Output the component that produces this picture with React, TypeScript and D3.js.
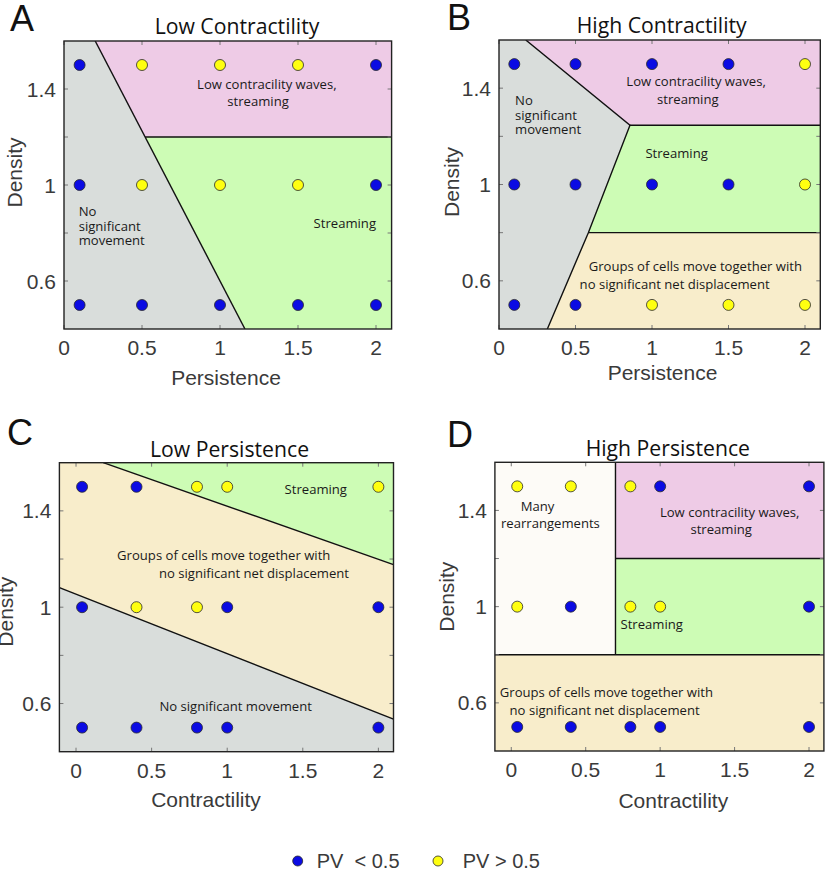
import React from "react";
import * as d3 from "d3";

// ---------- data ----------
const persistenceLevels = [0.1, 0.5, 1, 1.5, 2];
const contractilityLevels = [0.04, 0.4, 0.8, 1, 2];
const densityLevels = [1.5, 1, 0.5];
const xTicks = [0, 0.5, 1, 1.5, 2];
const yTicks = [0.6, 0.8, 1, 1.2, 1.4];
const yTickLabels = [0.6, 1, 1.4];

// 1 = PV > 0.5 (yellow), 0 = PV < 0.5 (blue); rows follow densityLevels
const pvA = [
  [0, 1, 1, 1, 0],
  [0, 1, 1, 1, 0],
  [0, 0, 0, 0, 0],
];
const pvB = [
  [0, 0, 0, 0, 1],
  [0, 0, 0, 0, 1],
  [0, 0, 1, 1, 1],
];
const pvC = [
  [0, 0, 1, 1, 1],
  [0, 1, 1, 0, 0],
  [0, 0, 0, 0, 0],
];
const pvD = [
  [1, 1, 1, 0, 0],
  [1, 0, 1, 1, 0],
  [0, 0, 0, 0, 0],
];

// phase regions (data coordinates)
const regionsA = [
  { kind: "none", pts: [[0, 1.6], [0.2, 1.6], [1.16, 0.4], [0, 0.4]] },
  { kind: "waves", pts: [[0.2, 1.6], [2.1, 1.6], [2.1, 1.2], [0.52, 1.2]] },
  { kind: "stream", pts: [[0.52, 1.2], [2.1, 1.2], [2.1, 0.4], [1.16, 0.4]] },
];
const boundariesA = [
  [[0.2, 1.6], [1.16, 0.4]],
  [[0.52, 1.2], [2.1, 1.2]],
];
const regionsB = [
  { kind: "none", pts: [[0, 1.6], [0.175, 1.6], [0.856, 1.246], [0.584, 0.8], [0.316, 0.4], [0, 0.4]] },
  { kind: "waves", pts: [[0.175, 1.6], [2.1, 1.6], [2.1, 1.246], [0.856, 1.246]] },
  { kind: "stream", pts: [[0.856, 1.246], [2.1, 1.246], [2.1, 0.8], [0.584, 0.8]] },
  { kind: "groups", pts: [[0.584, 0.8], [2.1, 0.8], [2.1, 0.4], [0.316, 0.4]] },
];
const boundariesB = [
  [[0.175, 1.6], [0.856, 1.246], [0.584, 0.8], [0.316, 0.4]],
  [[0.856, 1.246], [2.1, 1.246]],
  [[0.584, 0.8], [2.1, 0.8]],
];
const regionsC = [
  { kind: "stream", pts: [[0.18, 1.6], [2.1, 1.6], [2.1, 1.177]] },
  { kind: "groups", pts: [[-0.11, 1.6], [0.18, 1.6], [2.1, 1.177], [2.1, 0.535], [-0.11, 1.081]] },
  { kind: "none", pts: [[-0.11, 1.081], [2.1, 0.535], [2.1, 0.4], [-0.11, 0.4]] },
];
const boundariesC = [
  [[0.18, 1.6], [2.1, 1.177]],
  [[-0.11, 1.081], [2.1, 0.535]],
];
const regionsD = [
  { kind: "rearr", pts: [[-0.11, 1.6], [0.7, 1.6], [0.7, 0.8], [-0.11, 0.8]] },
  { kind: "waves", pts: [[0.7, 1.6], [2.1, 1.6], [2.1, 1.2], [0.7, 1.2]] },
  { kind: "stream", pts: [[0.7, 1.2], [2.1, 1.2], [2.1, 0.8], [0.7, 0.8]] },
  { kind: "groups", pts: [[-0.11, 0.8], [2.1, 0.8], [2.1, 0.4], [-0.11, 0.4]] },
];
const boundariesD = [
  [[0.7, 1.6], [0.7, 0.8]],
  [[0.7, 1.2], [2.1, 1.2]],
  [[-0.11, 0.8], [2.1, 0.8]],
];

// annotations: [text, x, y, anchor]
const notesA = [
  ["Low contracility waves,", 1.3, 1.399, "middle"],
  ["streaming", 1.244, 1.329, "middle"],
  ["No", 0.094, 0.871, "start"],
  ["significant", 0.094, 0.81, "start"],
  ["movement", 0.094, 0.75, "start"],
  ["Streaming", 1.8, 0.822, "middle"],
];
const notesB = [
  ["No", 0.105, 1.329, "start"],
  ["significant", 0.105, 1.267, "start"],
  ["movement", 0.105, 1.208, "start"],
  ["Low contracility waves,", 1.288, 1.408, "middle"],
  ["streaming", 1.234, 1.333, "middle"],
  ["Streaming", 1.161, 1.11, "middle"],
  ["Groups of cells move together with", 1.283, 0.639, "middle"],
  ["no significant net displacement", 1.148, 0.565, "middle"],
];
const notesC = [
  ["Streaming", 1.586, 1.468, "middle"],
  ["Groups of cells move together with", 0.977, 1.195, "middle"],
  ["no significant net displacement", 1.177, 1.123, "middle"],
  ["No significant movement", 1.056, 0.567, "middle"],
];
const notesD = [
  ["Many", 0.176, 1.397, "middle"],
  ["rearrangements", 0.263, 1.325, "middle"],
  ["Low contracility waves,", 1.467, 1.371, "middle"],
  ["streaming", 1.41, 1.3, "middle"],
  ["Streaming", 0.943, 0.908, "middle"],
  ["Groups of cells move together with", 0.639, 0.626, "middle"],
  ["no significant net displacement", 0.627, 0.551, "middle"],
];

// ---------- styles ----------
const FILL: Record<string, string> = {
  none: "#d9dddb",
  waves: "#eecbe6",
  stream: "#cdfcb5",
  groups: "#f8edcb",
  rearr: "#fdfbf7",
};
const BLUE = "#0b0be3";
const YELLOW = "#ffff10";
const TICKFONT = "'Liberation Sans', Arial, sans-serif";
const NOTEFONT = "'Open Sans', sans-serif";

const panels = [
  {
    letter: "A", lx: 10, ly: 31, title: "Low Contractility", tx: 237, ty: 34,
    left: 64, right: 391.6, top: 41, bottom: 329, xd: [0, 2.1],
    xs: persistenceLevels, pv: pvA, regions: regionsA, bounds: boundariesA, notes: notesA,
    xlab: "Persistence", xlx: 226, xly: 385, ylx: 22, yly: 172.5,
  },
  {
    letter: "B", lx: 447, ly: 30, title: "High Contractility", tx: 661.7, ty: 33,
    left: 499, right: 820.3, top: 40, bottom: 329, xd: [0, 2.1],
    xs: persistenceLevels, pv: pvB, regions: regionsB, bounds: boundariesB, notes: notesB,
    xlab: "Persistence", xlx: 662.5, xly: 380, ylx: 458.5, yly: 182,
  },
  {
    letter: "C", lx: 7, ly: 445, title: "Low Persistence", tx: 229.5, ty: 456.7,
    left: 59.4, right: 393.5, top: 462.7, bottom: 751.7, xd: [-0.11, 2.1],
    xs: contractilityLevels, pv: pvC, regions: regionsC, bounds: boundariesC, notes: notesC,
    xlab: "Contractility", xlx: 206, xly: 807, ylx: 13, yly: 611.7,
  },
  {
    letter: "D", lx: 447, ly: 447, title: "High Persistence", tx: 667.8, ty: 456,
    left: 494.9, right: 823.9, top: 462.3, bottom: 751, xd: [-0.11, 2.1],
    xs: contractilityLevels, pv: pvD, regions: regionsD, bounds: boundariesD, notes: notesD,
    xlab: "Contractility", xlx: 673.3, xly: 808, ylx: 453.5, yly: 596.7,
  },
];

function Panel({ p }: { p: any }) {
  const x = d3.scaleLinear().domain(p.xd).range([p.left, p.right]);
  const y = d3.scaleLinear().domain([0.4, 1.6]).range([p.bottom, p.top]);
  const line = d3.line<number[]>().x((d) => x(d[0])).y((d) => y(d[1]));
  const clipId = "clip" + p.letter;
  return (
    <g>
      <defs>
        <clipPath id={clipId}>
          <rect x={p.left} y={p.top} width={p.right - p.left} height={p.bottom - p.top} />
        </clipPath>
      </defs>
      <g clipPath={`url(#${clipId})`}>
        {p.regions.map((r: any, i: number) => (
          <path key={i} d={line(r.pts) + "Z"} fill={FILL[r.kind]} stroke={FILL[r.kind]} strokeWidth={0.5} />
        ))}
        {p.bounds.map((b: any, i: number) => (
          <path key={i} d={line(b) as string} fill="none" stroke="#111" strokeWidth={1.4} />
        ))}
      </g>
      {/* ticks, inward on all four sides */}
      {xTicks.map((t) => (
        <g key={"xt" + t} stroke="#777" strokeWidth={1}>
          <line x1={x(t)} x2={x(t)} y1={p.bottom} y2={p.bottom - 4} />
          <line x1={x(t)} x2={x(t)} y1={p.top} y2={p.top + 4} />
        </g>
      ))}
      {yTicks.map((t) => (
        <g key={"yt" + t} stroke="#777" strokeWidth={1}>
          <line x1={p.left} x2={p.left + 4} y1={y(t)} y2={y(t)} />
          <line x1={p.right} x2={p.right - 4} y1={y(t)} y2={y(t)} />
        </g>
      ))}
      <rect x={p.left} y={p.top} width={p.right - p.left} height={p.bottom - p.top} fill="none" stroke="#222" strokeWidth={1.4} />
      {p.notes.map((n: any, i: number) => (
        <text key={i} x={x(n[1])} y={y(n[2])} textAnchor={n[3]} fontFamily={NOTEFONT} fontSize={13.1} fill="#1a1a1a">
          {n[0]}
        </text>
      ))}
      {densityLevels.map((dv, r) =>
        p.xs.map((xv: number, c: number) => (
          <circle key={r + "-" + c} cx={x(xv)} cy={y(dv)} r={5.5} fill={p.pv[r][c] ? YELLOW : BLUE} stroke="#2a2a2a" strokeWidth={0.8} />
        ))
      )}
      {xTicks.map((t) => (
        <text key={"xl" + t} x={x(t)} y={p.bottom + 26} textAnchor="middle" fontFamily={TICKFONT} fontSize={21} fill="#3a3a3a">
          {d3.format("~g")(t)}
        </text>
      ))}
      {yTickLabels.map((t) => (
        <text key={"yl" + t} x={p.left - 8} y={y(t)} dy="0.36em" textAnchor="end" fontFamily={TICKFONT} fontSize={21} fill="#3a3a3a">
          {d3.format("~g")(t)}
        </text>
      ))}
      <text x={p.xlx} y={p.xly} textAnchor="middle" fontFamily={TICKFONT} fontSize={21} fill="#3a3a3a">{p.xlab}</text>
      <text transform={`translate(${p.ylx},${p.yly}) rotate(-90)`} textAnchor="middle" fontFamily={TICKFONT} fontSize={21} fill="#3a3a3a">Density</text>
      <text x={p.tx} y={p.ty} textAnchor="middle" fontFamily={NOTEFONT} fontSize={21.2} fill="#111">{p.title}</text>
      <text x={p.lx} y={p.ly} fontFamily={TICKFONT} fontSize={36} fill="#111">{p.letter}</text>
    </g>
  );
}

export default function App() {
  return (
    <svg width={825} height={869} style={{ position: "absolute", left: 0, top: 0, background: "#fff" }}>
      <rect x={0} y={0} width={825} height={869} fill="#fff" />
      {panels.map((p) => (
        <Panel key={p.letter} p={p} />
      ))}
      <g fontFamily={TICKFONT} fontSize={20} fill="#3a3a3a">
        <circle cx={297.7} cy={861} r={5} fill={BLUE} stroke="#2a2a2a" strokeWidth={0.8} />
        <text x={316.7} y={868} style={{ whiteSpace: "pre" }}>{"PV  < 0.5"}</text>
        <circle cx={438} cy={861} r={5} fill={YELLOW} stroke="#2a2a2a" strokeWidth={0.8} />
        <text x={462.7} y={868} style={{ whiteSpace: "pre" }}>{"PV > 0.5"}</text>
      </g>
    </svg>
  );
}
